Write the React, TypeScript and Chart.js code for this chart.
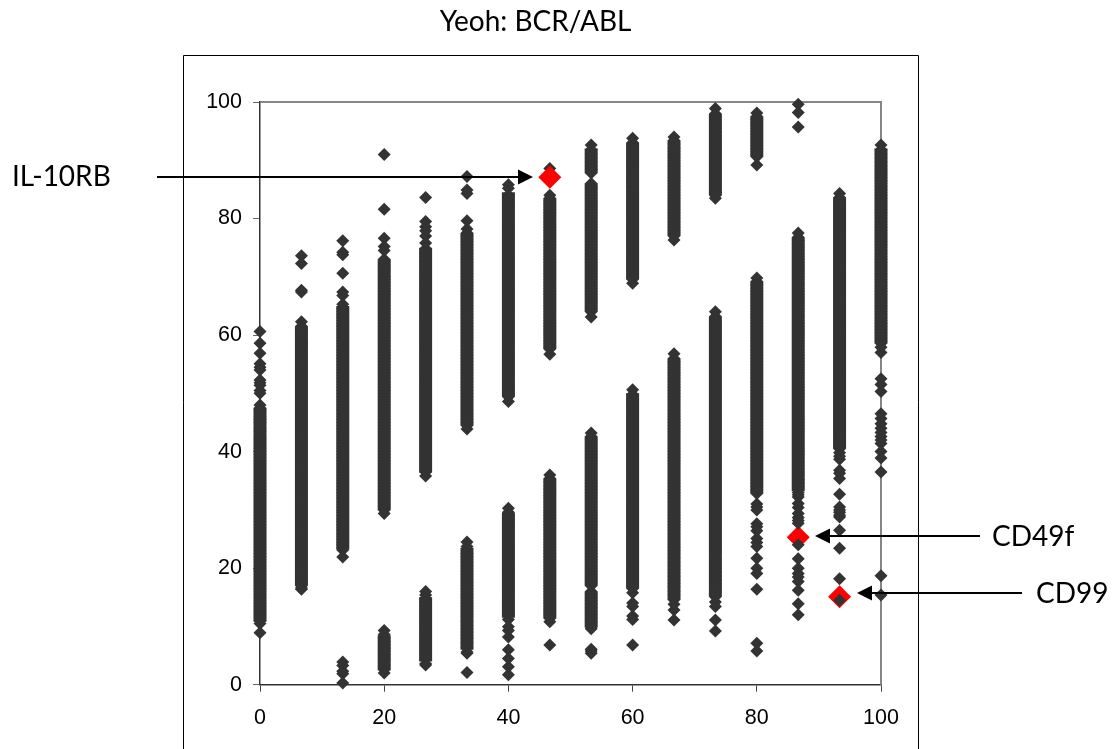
import React, { useEffect, useRef } from "react";
import { Chart, registerables } from "chart.js";

Chart.register(...registerables);

const columnX = [0, 6.67, 13.33, 20, 26.67, 33.33, 40, 46.67, 53.33, 60, 66.67, 73.33, 80, 86.67, 93.33, 100];

const col00 = [60.6,58.6,56.9,55.1,54.5,54,52.3,51.8,51.4,50.5,50,48,47.5,47,46,45.5,45,44,43.5,42.5,42,41.5,41,40.5,40,39.5,39,38.5,38,37.5,37,36.5,36,35.5,35,34.5,34,33.5,33,32.5,32,31.5,31,30.5,30,29.5,29,28.5,28,27.5,27,26.5,26,25.5,25,24.5,24,23.5,23,22.5,22,21.5,21,20.5,20,19.5,19,18.5,18,17.5,17,16.5,16,15.5,15,14.5,14,13.5,13,12.5,12,11.5,11,10.5,8.9];
const col07 = [73.6,72.3,67.7,67.4,62.3,61.5,61,60.5,60,59,58.5,58,57,56.5,56,55.5,55,54,53.5,53,52.5,52,51.5,51,50.5,50,49.5,49,48.5,48,47.5,47,46.5,46,45.5,45,44.5,44,43.5,43,42.5,42,41.5,41,40.5,40,39.5,39,38.5,38,37.5,37,36.5,36,35.5,35,34.5,34,33.5,33,32.5,32,31.5,31,30.5,30,29.5,29,28.5,28,27.5,27,26.5,26,25.5,25,24.5,24,23.5,23,22.5,22,21.5,21,20.5,20,19.5,19,18.5,18,17.5,17,16.6,16.4];
const col13 = [76.2,74.2,73.8,70.6,67.4,66.8,65.3,64.5,64,63.5,63,62.5,62,61.5,61,60.5,60,59.5,59,58.5,58,57.5,57,56.5,56,55.5,55,54.5,54,53.5,53,52.5,52,51.5,51,50.5,50,49.5,49,48.5,48,47.5,47,46.5,46,45.5,45,44.5,44,43.5,43,42.5,42,41.5,41,40.5,40,39.5,39,38.5,38,37.5,37,36.5,36,35.5,35,34.5,34,33.5,33,32.5,32,31.5,31,30.5,30,29.5,29,28.5,28,27.5,27,26.5,26,25.5,25,24.5,24,23.5,23.1,21.9,3.9,3.3,2.3,1.9,0.3];
const col20 = [91,81.6,76.6,75.2,74.5,73,72.5,72,71.5,71,70,69.5,69,68.5,68,67.5,67,66.5,66,65.5,65,64.5,64,63.5,63,62.5,62,61.5,61,60.5,60,59.5,59,58.5,58,57.5,57,56.5,56,55.5,55,54.5,54,53.5,53,52.5,52,51.5,51,50.5,50,49.5,49,48.5,48,47.5,47,46.5,46,45.5,45,44.5,44,43.5,43,42.5,42,41.5,41,40.5,40,39.5,39,38.5,38,37.5,37,36.5,36,35.5,35,34.5,34,33.5,33,32.5,32,31.5,31,30.5,30,29.4,9.3,8.6,8,7.4,6.8,6.2,5.8,5.2,4.6,4.2,3.2,2.6,2];
const col27 = [83.6,79.5,78.6,77.9,77,75.8,74.8,74.1,73.4,72.7,72,71.3,70.6,70,69.5,69,68.5,68,67.5,67,66.5,66,65.5,65,64.5,64,63.5,63,62.5,62,61.5,61,60.5,60,59.5,59,58.5,58,57.5,57,56.5,56,55.5,55,54.5,54,53.5,53,52.5,52,51.5,51,50.5,50,49.5,49,48.5,48,47.5,47,46.5,46,45.5,45,44.5,44,43.5,43,42.5,42,41.5,41,40.5,40,39.5,39,38.5,38,37.5,37,36.5,35.8,16,15.4,14.8,14.2,13.5,13,12.5,12,11.5,11,10.5,10,9.5,9,8.5,8,7.5,7,6.5,6,5.5,5,4.4,3.6,3.4];
const col33 = [87.2,84.9,84.3,79.6,78.2,77.5,77,76.5,76,75.5,75,74.5,74,73.5,73,72.5,72,71.5,71,70.5,70,69.5,69,68.5,68,67.5,67,66.5,66,65.5,65,64.5,64,63.5,63,62.5,62,61.5,61,60.5,60,59.5,59,58.5,58,57.5,57,56.5,56,55.5,55,54.5,54,53.5,53,52.5,52,51.5,51,50.5,50,49.5,49,48.5,48,47.5,47,46.5,46,45.5,45,44.5,43.9,24.5,23.7,22.5,22,21.5,21,20.5,20,19.5,19,18.5,18,17.5,17,16.5,16,15.5,15,14.5,14,13.5,13,12.5,12,11.6,10.8,10.2,9.6,9,8.5,8,7.2,6.4,5.6,5.4,2.1];
const col40 = [85.8,85.2,84,83.5,83,82.5,82,81.5,81,80.5,80,79.5,79,78.5,78,77.5,77,76.5,76,75.5,75,74.5,74,73.5,73,72.5,72,71.5,71,70.5,70,69.5,69,68.5,68,67.5,67,66.5,66,65.5,65,64.5,64,63.5,63,62.5,62,61.5,61,60.5,60,59.5,59,58.5,58,57.5,57,56.5,56,55.5,55,54.5,54,53.5,53,52.5,52,51.5,51,50.5,50,49.4,48.6,30.3,29.6,29,28.5,28,27.5,27,26.5,26,25.5,25,24.5,24,23.5,23,22.5,22,21.5,21,20.5,20,19.5,19,18.5,18,17.5,17,16.5,16,15.5,15,14.5,14,13.5,13,12.5,12,11.2,9.95,9.3,8.2,6,4.5,3.1,1.7];
const col47 = [88.6,84,83.5,83,82.5,82,81.5,81,80.5,80,79.5,79,78.5,78,77.5,77,76.5,76,75.5,75,74.5,74,73.5,73,72.5,72,71.5,71,70.5,70,69.5,69,68.5,68,67.5,67,66.5,66,65.5,65,64.5,64,63.5,63,62.5,62,61.5,61,60.5,60,59.5,59,58.5,58,57.6,56.7,36,35.4,34.8,34.2,33.6,33,32.5,32,31.5,31,30.5,30,29.5,29,28.5,28,27.5,27,26.5,26,25.5,25,24.5,24,23.5,23,22.5,22,21.5,21,20.5,20,19.5,19,18.5,18,17.5,17,16.5,16,15.5,15,14.5,14,13.5,13,12.5,12,11.4,10.8,6.8];
const col53 = [92.6,91.8,91,90.4,89.6,89,88.4,87.8,86,85.4,85,84.5,84,83.5,83,82.5,82,81.5,81,80.5,80,79.5,79,78.5,78,77.5,77,76.5,76,75.5,75,74.5,74,73.5,73,72.5,72,71.5,71,70.5,70,69.5,69,68.5,68,67.5,67,66.5,66,65.5,65,64.5,64,63.1,43.2,42.6,42,41.5,41,40.5,40,39.5,39,38.5,38,37.5,37,36.5,36,35.5,35,34.5,34,33.5,33,32.5,32,31.5,31,30.5,30,29.5,29,28.5,28,27.5,27,26.5,26,25.5,25,24.5,24,23.5,23,22.5,22,21.5,21,20.5,20,19.5,19,18.5,18,17.5,17,16,15.5,15,14.5,13.8,13.2,12.5,12,11.4,10.8,10,9.6,6.1,5.8,5.4];
const col60 = [93.8,93,92.4,91.8,91,90.5,90,89.4,88.8,88.2,87.8,87,86.5,86,85.5,84.6,84,83.5,83,82.5,82,81.5,81,80.5,80,79.5,79,78.5,78,77.5,77,76.5,76,75.5,75,74.5,74,73.5,73,72.5,72,71.5,71,70.5,70,69.6,68.9,50.6,49.8,49,48.5,48,47.5,47,46.5,46,45.5,45,44.5,44,43.5,43,42.5,42,41.5,41,40.5,40,39.5,39,38.5,38,37.5,37,36.5,36,35.5,35,34.5,34,33.5,33,32.5,32,31.5,31,30.5,30,29.5,29,28.5,28,27.5,27,26.5,26,25.5,25,24.5,24,23.5,23,22.5,22,21.5,21,20.5,20,19.5,19,18.5,18,17.5,17,16.5,15.8,14,13.4,11.8,11.2,6.8];
const col67 = [94,93.4,92.8,92,91.5,91,90.5,90,89.5,89,88.5,88,87.5,87,86.5,86,85.5,85,84.5,84,83.5,83,82.5,82,81.5,81,80.5,80,79.5,79,78.5,78,77.5,77,76.3,56.8,56,55.4,55,54.5,54,53.5,53,52.5,52,51.5,51,50.5,50,49.5,49,48.5,48,47.5,47,46.5,46,45.5,45,44.5,44,43.5,43,42.5,42,41.5,41,40.5,40,39.5,39,38.5,38,37.5,37,36.5,36,35.5,35,34.5,34,33.5,33,32.5,32,31.5,31,30.5,30,29.5,29,28.5,28,27.5,27,26.5,26,25.5,25,24.5,24,23.5,23,22.5,21.8,21,20.4,19.8,19.2,18.6,18,17.4,16.8,16,15.4,14.6,13.8,12.8,11.1];
const col73 = [98.9,98,97.4,96.6,96,95.4,94.8,94.2,93.6,93,92.5,92,91.5,91,90.5,90,89.5,89,88.5,88,87.5,87,86.5,86,85.5,85,84.5,84,83.5,64,63.2,62.4,62,61.5,61,60.5,60,59.5,59,58.5,58,57.5,57,56.5,56,55.5,55,54.5,54,53.5,53,52.5,52,51.5,51,50.5,50,49.5,49,48.5,48,47.5,47,46.5,46,45.5,45,44.5,44,43.5,43,42.5,42,41.5,41,40.5,40,39.5,39,38.5,38,37.5,37,36.5,36,35.5,35,34.5,34,33.5,33,32.5,32,31.5,31,30.5,30,29.5,29,28.5,28,27.5,27,26.5,26,25.5,25,24.5,24,23.5,23,22.5,21.4,20.8,20,19.4,18.6,18,17.4,16.8,16.2,15.1,14.2,13.4,11.1,9.2];
const col80 = [98.1,97.5,97,96.5,96,95.5,95,94.5,94,93.5,93,92.5,92,91.5,91,90.6,89.2,69.8,69.2,68.6,68,67.5,67,66.5,66,65.5,65,64.5,64,63.5,63,62.5,62,61.5,61,60.5,60,59.5,59,58.5,58,57.5,57,56.5,56,55.5,55,54.5,54,53.5,53,52.5,52,51.5,51,50.5,50,49.5,49,48.5,48,47.5,47,46.5,46,45.5,45,44.5,44,43.5,43,42.5,42,41.5,41,40.5,40,39.5,39,38.5,38,37.5,37,36.5,36,35.5,35,34.5,34,33.4,32.8,31,30.5,30,27.6,27.1,26.4,25.1,24.4,23.7,21.7,20,19.1,16.4,7.1,5.8];
const col87 = [99.6,98.2,95.7,77.5,76.8,76.2,75.5,75,74.5,74,73.5,73,72.5,72,71.5,71,70.5,70,69.5,69,68.5,68,67.5,67,66.5,66,65.5,65,64.5,64,63.5,63,62.5,62,61.5,61,60.5,60,59.5,59,58.5,58,57.5,57,56.5,56,55.5,55,54.5,54,53.5,53,52.5,52,51.5,51,50.5,50,49.5,49,48.5,48,47.5,47,46.5,46,45.5,45,44.5,44,43.5,43,42.5,42,41.5,41,40.5,40,39.5,39,38.2,37.6,37,36.5,36,35.2,34.6,34,33,32.6,32.2,31.1,30.4,29.4,28.7,28.2,27.7,24,21.6,20,19.1,18.5,17.7,16.2,13.9,12];
const col93 = [84.3,83.6,83,82.5,82,81.5,81,80.5,80,79.5,79,78.5,78,77.5,77,76.5,76,75.5,75,74.5,74,73.5,73,72.5,72,71.5,71,70.5,70,69.5,69,68.5,68,67.5,67,66.5,66,65.5,65,64.5,64,63.5,63,62.5,62,61.5,61,60.5,60,59.5,59,58.5,58,57.5,57,56.5,56,55.5,55,54.5,54,53.5,53,52.5,52,51.5,51,50.5,50,49.5,49,48.5,48,47.5,47,46.5,46,45.5,44.8,44.2,43.5,42.8,42,41.5,41,40.5,39.8,39.2,38.7,36.8,36.3,35.4,32.7,30.5,30,29.6,29.1,28.8,26.5,23.4,18.2,14.5];
const col100 = [92.6,91.8,91,90.4,89.8,89,88.5,88,87.5,87,86.5,86,85.5,85,84.5,84,83.5,83,82.5,82,81.5,81,80.5,80,79.5,79,78.5,78,77.5,77,76.5,76,75.5,75,74.5,74,73.5,73,72.5,72,71.5,71,70.5,70,69.5,69,68.5,68,67.5,67,66.5,66,65.5,65,64.5,64,63.5,63,62.5,62,61.5,61,60.5,60,59.5,59,58.6,57.9,57,52.5,51.5,50.3,46.5,45.7,44.8,44,43.3,42.6,42,41.4,40,38.9,36.5,18.7,15.4];

const columns = [col00, col07, col13, col20, col27, col33, col40, col47, col53, col60, col67, col73, col80, col87, col93, col100];

// Where a column's markers merge into one unbroken band: column x, band top, band bottom.
const bandX = [0, 6.67, 13.33, 20, 20, 26.67, 26.67, 33.33, 33.33, 40, 40, 46.67, 46.67, 53.33, 53.33, 53.33, 53.33, 60, 60, 66.67, 66.67, 73.33, 73.33, 80, 80, 86.67, 93.33, 100];
const bandTop = [47.5, 61.5, 65, 73, 8.5, 75, 15, 77.5, 23.5, 84.5, 29.5, 83.5, 35.4, 86, 92, 42.6, 16, 93, 50, 93.4, 56, 98, 63.2, 97.5, 69.2, 76.8, 83.6, 92];
const bandBottom = [10.8, 17, 23.2, 30, 2.5, 36.4, 4, 44.5, 6, 49.4, 11.5, 57.6, 11.4, 64, 87.8, 17, 9.8, 69.6, 16.5, 77, 14.6, 84, 15.1, 90.6, 32.8, 33.2, 40.5, 58.6];

const highlightBelowX = [86.67, 93.33];
const highlightBelowY = [25.3, 15.1];
const highlightAboveX = [46.67];
const highlightAboveY = [87.1];

const titleText = "Yeoh: BCR/ABL";
const labelNames = ["IL-10RB", "CD49f", "CD99"];
const labelLeft = [12, 992, 1036];
const labelBaseline = [186, 546, 603];
const arrowY = [177, 536, 593];
const arrowStart = [157, 980, 1022];
const arrowTip = [533, 815, 857];

const frameAndNotes = {
  id: "frameAndNotes",
  afterDraw(chart: any) {
    const { ctx } = chart;
    ctx.save();
    ctx.strokeStyle = "#000";
    ctx.lineWidth = 1;
    ctx.beginPath();
    ctx.moveTo(183.5, 749);
    ctx.lineTo(183.5, 55.5);
    ctx.lineTo(918.5, 55.5);
    ctx.lineTo(918.5, 749);
    ctx.stroke();

    ctx.lineWidth = 2;
    labelNames.forEach((name, i) => {
      const y = arrowY[i];
      const dir = arrowTip[i] > arrowStart[i] ? 1 : -1;
      const tip = arrowTip[i];
      ctx.strokeStyle = "#000";
      ctx.beginPath();
      ctx.moveTo(arrowStart[i], y);
      ctx.lineTo(tip - dir * 14, y);
      ctx.stroke();
      ctx.fillStyle = "#000";
      ctx.beginPath();
      ctx.moveTo(tip, y);
      ctx.lineTo(tip - dir * 15, y - 7.5);
      ctx.lineTo(tip - dir * 15, y + 7.5);
      ctx.closePath();
      ctx.fill();
      ctx.font = "28px Lato";
      ctx.textAlign = "left";
      ctx.textBaseline = "alphabetic";
      ctx.fillText(name, labelLeft[i], labelBaseline[i]);
    });
    ctx.restore();
  },
  beforeDatasetsDraw(chart: any) {
    const { ctx, chartArea: a } = chart;
    ctx.save();
    ctx.strokeStyle = "#868686";
    ctx.lineWidth = 2;
    ctx.beginPath();
    ctx.moveTo(a.left, a.top);
    ctx.lineTo(a.right, a.top);
    ctx.lineTo(a.right, a.bottom);
    ctx.stroke();
    ctx.restore();
  },
};

export default function App() {
  const ref = useRef<HTMLCanvasElement>(null);
  useEffect(() => {
    document.body.style.margin = "0";
    const dark = columnX.flatMap((x, i) => columns[i].map((y) => ({ x, y })));
    const bands = bandX.flatMap((x, i) => [
      { x, y: bandTop[i] },
      { x, y: bandBottom[i] },
      { x, y: null },
    ]);
    const chart = new Chart(ref.current as HTMLCanvasElement, {
      type: "scatter",
      plugins: [frameAndNotes],
      data: {
        datasets: [
          {
            label: "Highlighted above",
            data: highlightAboveX.map((x, i) => ({ x, y: highlightAboveY[i] })),
            pointStyle: "rectRot",
            pointRadius: 11.5,
            backgroundColor: "#ff0000",
            borderWidth: 0,
            order: 0,
            clip: false,
          },
          {
            label: "Genes",
            data: dark,
            pointStyle: "rectRot",
            pointRadius: 6.5,
            backgroundColor: "#333333",
            borderWidth: 0,
            order: 1,
            clip: false,
          },
          {
            label: "Merged markers",
            data: bands,
            showLine: true,
            spanGaps: false,
            pointRadius: 0,
            borderColor: "#333333",
            borderWidth: 13,
            borderCapStyle: "butt",
            order: 2,
            clip: false,
          },
          {
            label: "Highlighted",
            data: highlightBelowX.map((x, i) => ({ x, y: highlightBelowY[i] })),
            pointStyle: "rectRot",
            pointRadius: 11.5,
            backgroundColor: "#ff0000",
            borderWidth: 0,
            order: 3,
            clip: false,
          },
        ],
      },
      options: {
        responsive: false,
        animation: false,
        layout: { padding: { left: 190, right: 239, top: 0, bottom: 20.3 } },
        plugins: {
          legend: { display: false },
          tooltip: { enabled: false },
          title: {
            display: true,
            text: titleText,
            color: "#000",
            font: { family: "Lato", size: 28, weight: "normal", lineHeight: 1.2 },
            padding: { top: 5, bottom: 63.4 },
          },
        },
        scales: {
          x: {
            type: "linear",
            min: 0,
            max: 100,
            afterFit: (s: any) => { s.height = 44; },
            border: { color: "#333333", width: 1.5 },
            grid: { drawOnChartArea: false, drawTicks: true, tickLength: 7, color: "#444444" },
            ticks: { stepSize: 20, maxRotation: 0, color: "#000", padding: 13, font: { family: "Liberation Sans", size: 21.5 } },
          },
          y: {
            type: "linear",
            min: 0,
            max: 100,
            afterFit: (s: any) => { s.width = 70; },
            border: { color: "#333333", width: 1.5 },
            grid: { drawOnChartArea: false, drawTicks: true, tickLength: 7, color: "#666666" },
            ticks: { stepSize: 20, color: "#000", padding: 11, font: { family: "Liberation Sans", size: 21.5 } },
          },
        },
      },
    } as any);
    return () => chart.destroy();
  }, []);
  return (
    <div style={{ position: "absolute", left: 0, top: 0, width: 1120, height: 749, overflow: "hidden", background: "#fff" }}>
      <canvas ref={ref} width={1120} height={749} style={{ display: "block" }} />
    </div>
  );
}
